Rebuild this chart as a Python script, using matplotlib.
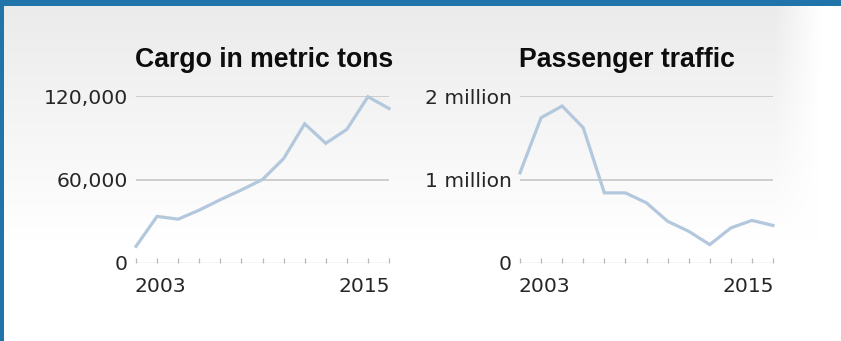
import numpy as np
import matplotlib
matplotlib.use("Agg")
import matplotlib.pyplot as plt
from matplotlib.patches import Rectangle

# Annual figures, 2003-2015
years = list(range(2003, 2016))
cargo_tons = [12000, 33500, 31500, 38000, 45500, 52500, 60000,
              75000, 100000, 86000, 96000, 119500, 111000]
passengers_m = [1.08, 1.74, 1.88, 1.62, 0.84, 0.84, 0.72,
                0.50, 0.38, 0.22, 0.42, 0.51, 0.45]

cargo_ticks = [0, 60000, 120000]
cargo_tick_labels = ["0", "60,000", "120,000"]
pass_ticks = [0, 1, 2]
pass_tick_labels = ["0", "1 million", "2 million"]
edge_year_labels = ["2003", "2015"]

W, H, DPI = 841, 341, 100
fig = plt.figure(figsize=(W / DPI, H / DPI), dpi=DPI)

# soft grey-to-white backdrop
bg = fig.add_axes([0, 0, 1, 1])
yy = np.linspace(0, 1, H)[:, None]
xx = np.linspace(0, 1, W)[None, :]
shade = np.clip((yy * H - 6) / 234.0, 0, 1)
level = 235 + 20 * shade
level = level + (255 - level) * np.clip((xx * W - 775) / 45.0, 0, 1)
img = np.repeat(level[:, :, None], 3, axis=2) / 255.0
bg.imshow(img, aspect="auto", extent=[0, W, H, 0], interpolation="bilinear")
bg.set_xlim(0, W)
bg.set_ylim(H, 0)
bg.axis("off")
frame_blue = "#1f74aa"
bg.add_patch(Rectangle((0, 0), W, 6, color=frame_blue, lw=0))
bg.add_patch(Rectangle((0, 0), 4.5, H, color=frame_blue, lw=0))

LINE = "#b3c8dc"
GRID = "#c2c2c2"
TXT = "#262626"
TITLE_FONT = dict(family="Liberation Sans", weight="bold", size=19.2, color="#0d0d0d")
TICK_FONT = dict(family="DejaVu Sans", size=14.6, color=TXT)


def panel(left_px, title, values, ticks, tick_labels, ymax):
    top_px, base_px = 96, 263
    ax = fig.add_axes([left_px / W, (H - base_px) / H,
                       253 / W, (base_px - top_px) / H])
    ax.set_facecolor("none")
    ax.plot(years, values, color=LINE, lw=2.3, solid_joinstyle="miter",
            clip_on=False, zorder=3)
    ax.set_xlim(years[0], years[-1])
    ax.set_ylim(0, ymax)
    for s in ax.spines.values():
        s.set_visible(False)
    for t in ticks[1:]:
        ax.axhline(t, color=GRID, lw=1.1, zorder=1)
    ax.axhline(0, color="#d0d0d0", lw=1.0, zorder=1)
    ax.set_xticks(years)
    ax.set_xticklabels([])
    ax.tick_params(axis="x", direction="in", length=3.5, width=0.9,
                   color="#b8b8b8")
    ax.set_yticks([])
    for t, lab in zip(ticks, tick_labels):
        ax.annotate(lab, xy=(0, t), xycoords=("axes fraction", "data"),
                    xytext=(-8, -2), textcoords="offset pixels",
                    ha="right", va="center", **TICK_FONT)
    for yr, lab, ha in zip((years[0], years[-1]), edge_year_labels,
                           ("left", "right")):
        ax.annotate(lab, xy=(yr, 0), xycoords=("data", "axes fraction"),
                    xytext=(-2 if ha == "left" else 1, -23),
                    textcoords="offset pixels", ha=ha, va="center",
                    **TICK_FONT)
    ax.annotate(title, xy=(0, 1), xycoords="axes fraction",
                xytext=(-1, 29), textcoords="offset pixels",
                ha="left", va="baseline", **TITLE_FONT)
    return ax


panel(136, "Cargo in metric tons", cargo_tons, cargo_ticks,
      cargo_tick_labels, 120000)
panel(520, "Passenger traffic", passengers_m, pass_ticks,
      pass_tick_labels, 2)

fig.savefig("out.png", dpi=DPI)
